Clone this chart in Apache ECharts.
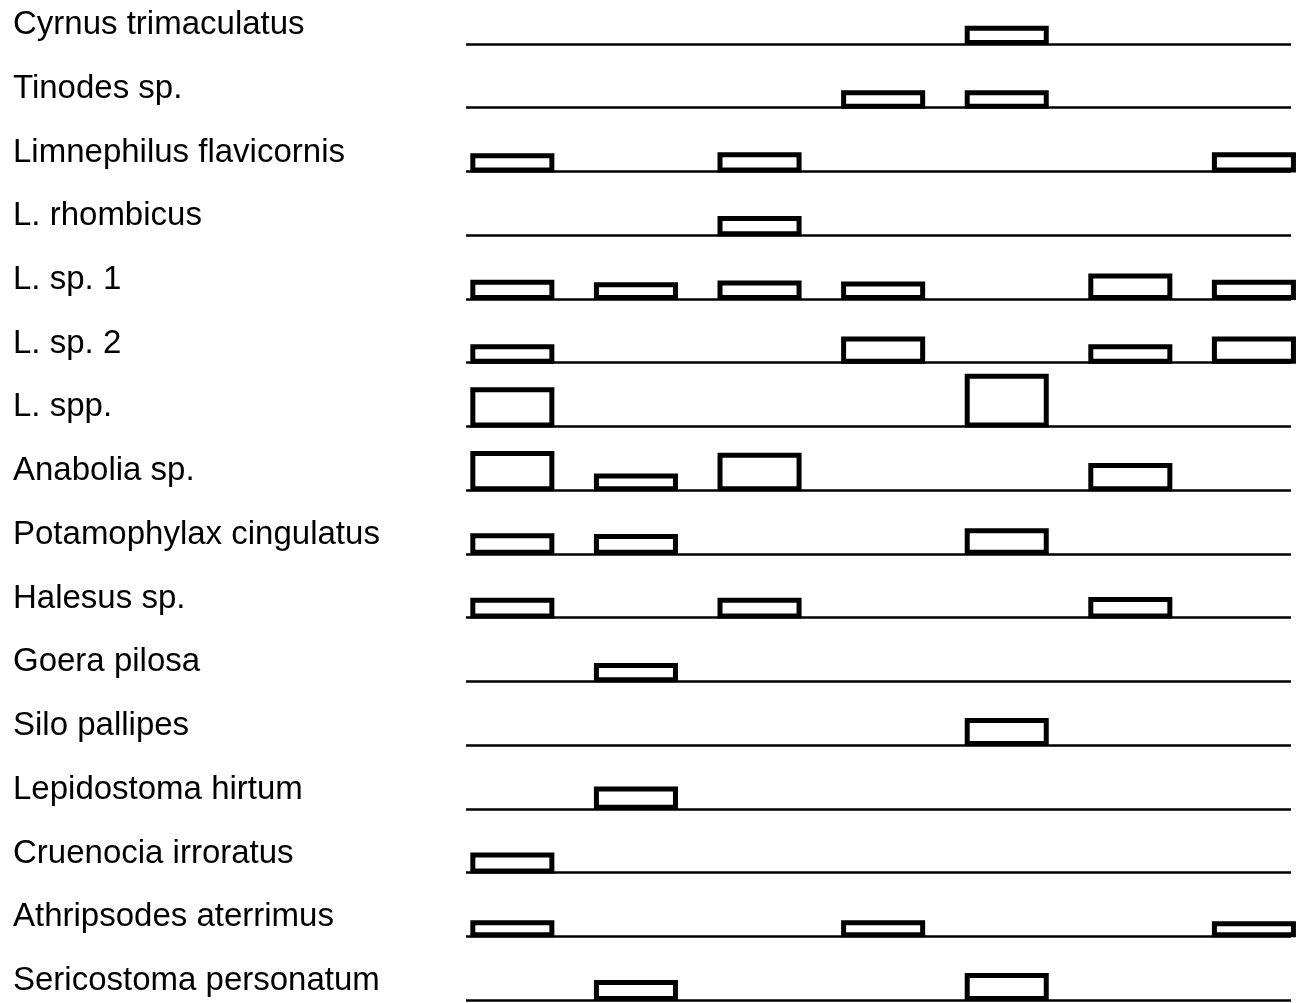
<!DOCTYPE html>
<html>
<head>
<meta charset="utf-8">
<script src="https://cdn.jsdelivr.net/npm/echarts@6/dist/echarts.min.js"></script>
<style>
  html, body { margin: 0; padding: 0; background: #fff; }
  #main { width: 1299px; height: 1003px; }
</style>
</head>
<body>
<div id="main"></div>
<script>
// species, top to bottom
var species = [
    'Cyrnus trimaculatus',
    'Tinodes sp.',
    'Limnephilus flavicornis',
    'L. rhombicus',
    'L. sp. 1',
    'L. sp. 2',
    'L. spp.',
    'Anabolia sp.',
    'Potamophylax cingulatus',
    'Halesus sp.',
    'Goera pilosa',
    'Silo pallipes',
    'Lepidostoma hirtum',
    'Cruenocia irroratus',
    'Athripsodes aterrimus',
    'Sericostoma personatum'
];

// sampling occasions (columns)
var samples = [1, 2, 3, 4, 5, 6, 7];

// relative abundance (box height), 0 = absent
var abundance = [
    [0, 0, 0, 0, 1.15, 0, 0],
    [0, 0, 0, 1.1, 1.1, 0, 0],
    [1.15, 0, 1.2, 0, 0, 0, 1.2],
    [0, 0, 1.2, 0, 0, 0, 0],
    [1.2, 1.05, 1.15, 1.1, 0, 1.6, 1.2],
    [1.15, 0, 0, 1.65, 0, 1.15, 1.65],
    [2.45, 0, 0, 0, 3.3, 0, 0],
    [2.45, 1.05, 2.35, 0, 0, 1.7, 0],
    [1.3, 1.25, 0, 0, 1.6, 0, 0],
    [1.25, 0, 1.25, 0, 0, 1.3, 0],
    [0, 1.15, 0, 0, 0, 0, 0],
    [0, 0, 0, 0, 1.7, 0, 0],
    [0, 1.4, 0, 0, 0, 0, 0],
    [1.25, 0, 0, 0, 0, 0, 0],
    [1.0, 0, 0, 1.0, 0, 0, 0.95],
    [0, 1.25, 0, 0, 1.7, 0, 0]
];

var ROW_STEP = 4;   // y units between two baselines
var BOX_W = 0.68;   // box width in column units
var N = species.length;

var boxes = [];
abundance.forEach(function(row, r) {
    row.forEach(function(v, c) {
        if (v > 0) boxes.push([c, r, v]);
    });
});

var myChart = echarts.init(document.getElementById('main'));

var option = {
    backgroundColor: '#fff',
    animation: false,
    grid: { left: 466, right: 8, top: 44, bottom: 3 },
    xAxis: {
        type: 'value',
        min: -0.375,
        max: samples.length - 0.7,
        show: false
    },
    yAxis: {
        type: 'value',
        min: 0,
        max: (N - 1) * ROW_STEP,
        interval: ROW_STEP,
        axisLine: { show: false },
        axisTick: { show: false },
        splitLine: {
            show: true,
            lineStyle: { color: '#000', width: 2.5 }
        },
        axisLabel: {
            showMinLabel: true,
            showMaxLabel: true,
            align: 'left',
            margin: 453,
            verticalAlign: 'bottom',
            lineHeight: 38,
            color: '#000',
            fontFamily: 'Liberation Sans',
            fontSize: 33,
            formatter: function(v) {
                var i = N - 1 - Math.round(v / ROW_STEP);
                return species[i] || '';
            }
        }
    },
    series: [{
        type: 'custom',
        data: boxes,
        renderItem: function(params, api) {
            var col = api.value(0);
            var base = (N - 1 - api.value(1)) * ROW_STEP;
            var h = api.value(2);
            var p0 = api.coord([col, base]);
            var p1 = api.coord([col, base + h]);
            var w = api.size([BOX_W, 0])[0];
            var lw = 5;
            return {
                type: 'rect',
                shape: {
                    x: p0[0] - w / 2 + lw / 2,
                    y: p1[1] + lw / 2,
                    width: w - lw,
                    height: p0[1] - p1[1] - lw + 1
                },
                style: { fill: '#fff', stroke: '#000', lineWidth: lw }
            };
        }
    }]
};

myChart.setOption(option);
</script>
</body>
</html>
